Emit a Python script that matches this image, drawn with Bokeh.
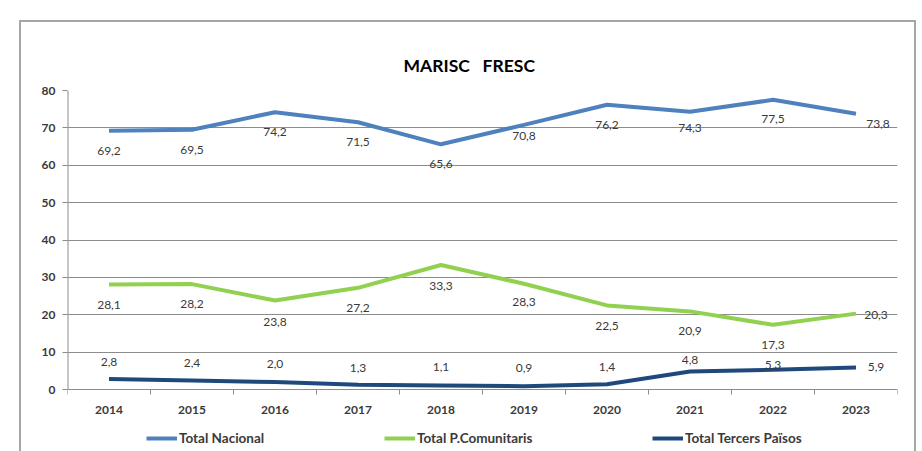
from bokeh.plotting import figure
from bokeh.models import ColumnDataSource, FixedTicker, Legend, LegendItem, Range1d
from bokeh.embed import file_html
from bokeh.resources import INLINE
from bokeh.core.properties import value

# ---- data ----
years = [2014, 2015, 2016, 2017, 2018, 2019, 2020, 2021, 2022, 2023]
nacional = [69.2, 69.5, 74.2, 71.5, 65.6, 70.8, 76.2, 74.3, 77.5, 73.8]
comunitaris = [28.1, 28.2, 23.8, 27.2, 33.3, 28.3, 22.5, 20.9, 17.3, 20.3]
tercers = [2.8, 2.4, 2.0, 1.3, 1.1, 0.9, 1.4, 4.8, 5.3, 5.9]
series_names = ["Total Nacional", "Total P.Comunitaris", "Total Tercers Països"]
y_ticks = [0, 10, 20, 30, 40, 50, 60, 70, 80]
year_labels = [str(y) for y in years]
title_text = "MARISC\u00a0\u00a0\u00a0FRESC"

# ---- styles ----
colors = ["#4F81BD", "#92D050", "#1F497D"]
label_dx = [[0] * 9 + [22], [0] * 9 + [20], [0] * 9 + [20]]
label_dy = [[20, 20, 20, 20, 20, 11, 20, 16, 19, 10],
            [21, 20, 21, 20, 21, 18, 21, 20, 20, 1],
            [-17, -18, -18, -17, -18, -18, -17, -12, -5, 0]]
legend_x = [79, 317, 585]
FONT = "Lato"
TXT = "#3A3A3A"
GRID = "#8C8C8C"
BOX = "2px solid #A6A6A6"
PLOT_PX = 299          # pixels between 0 and the top tick
BELOW_PX = 60          # room under the zero line for year labels and legend
ppu = PLOT_PX / (y_ticks[-1] - y_ticks[0])
y_lo = y_ticks[0] - BELOW_PX / ppu
x_lo, x_hi = years[0] - 0.5, years[-1] + 0.5

p = figure(width=897, height=431, x_axis_type=None,
           x_range=Range1d(x_lo, x_hi),
           y_range=Range1d(y_lo, y_ticks[-1]),
           output_backend="svg", toolbar_location=None,
           min_border_left=46, min_border_right=21,
           min_border_top=68, min_border_bottom=4)
p.styles = {"transform": "translate(19px, 20px)",
            "border-left": BOX, "border-top": BOX, "border-right": BOX}
p.outline_line_color = None
p.background_fill_color = "white"
p.border_fill_color = "white"

p.title.text = title_text
p.title.align = "left"
p.title.offset = 336
p.title.standoff = 30
p.title.text_font = FONT
p.title.text_font_size = "17.5px"
p.title.text_font_style = "bold"
p.title.text_color = "black"

p.ygrid.grid_line_color = GRID
p.ygrid.grid_line_width = 1

# y axis (ticks and labels; its line is drawn from 0 to the top tick only)
p.yaxis.ticker = FixedTicker(ticks=y_ticks)
p.yaxis.axis_line_color = None
p.yaxis.major_tick_line_color = GRID
p.yaxis.major_tick_out = 5
p.yaxis.major_tick_in = 0
p.yaxis.minor_tick_line_color = None
p.yaxis.major_label_standoff = 7
p.yaxis.major_label_text_font = FONT
p.yaxis.major_label_text_font_size = "12px"
p.yaxis.major_label_text_font_style = "bold"
p.yaxis.major_label_text_color = TXT
p.segment(x0=[x_lo], y0=[y_ticks[0]], x1=[x_lo], y1=[y_ticks[-1]],
          line_color=GRID, line_width=2)

# category axis along the zero line: ticks between years, labels below
bounds = [y - 0.5 for y in years] + [years[-1] + 0.5]
p.segment(x0=bounds, y0=[y_ticks[0]] * len(bounds), x1=bounds,
          y1=[y_ticks[0] - 5 / ppu] * len(bounds), line_color=GRID, line_width=1)
p.text(x=years, y=[y_ticks[0]] * len(years), text=year_labels, y_offset=20,
       text_align="center", text_baseline="middle", text_font=value(FONT),
       text_font_size="12px", text_font_style="bold", text_color=TXT)

for name, vals, col, dx, dy, lx in zip(series_names, [nacional, comunitaris, tercers],
                                       colors, label_dx, label_dy, legend_x):
    src = ColumnDataSource(dict(x=years, y=vals,
                                lab=[f"{v:.1f}".replace(".", ",") for v in vals],
                                dx=dx, dy=dy))
    r = p.line("x", "y", source=src, line_color=col, line_width=4)
    p.text("x", "y", text="lab", source=src, x_offset="dx", y_offset="dy",
           text_align="center", text_baseline="middle",
           text_font=value(FONT), text_font_size="12px", text_color=TXT)
    lg = Legend(items=[LegendItem(label=name, renderers=[r])],
                location=(lx, 3),
                glyph_width=31, glyph_height=12, label_height=12,
                label_standoff=2, padding=0, margin=0,
                border_line_color=None, background_fill_alpha=0,
                label_text_font=FONT, label_text_font_size="13.5px",
                label_text_font_style="bold", label_text_color=TXT)
    p.add_layout(lg, "center")

open("out.html", "w").write(file_html(p, INLINE))
